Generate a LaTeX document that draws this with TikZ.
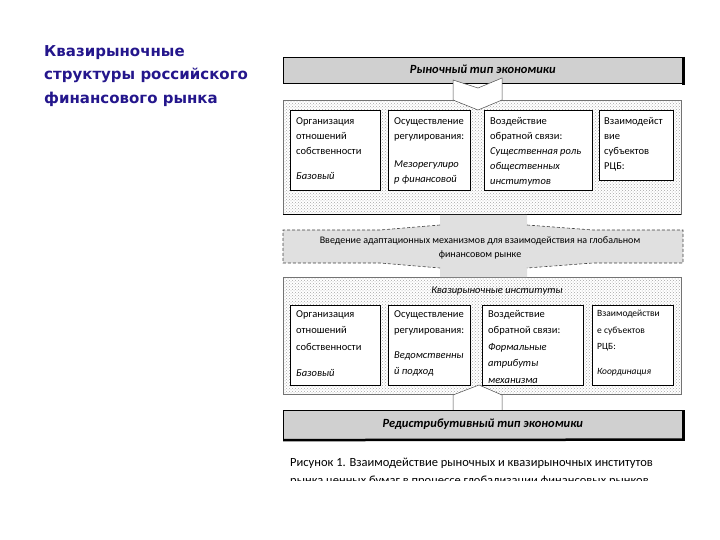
\documentclass[tikz,border=0pt]{standalone}
\usepackage{fontspec}
\setmainfont{Carlito}
\newfontfamily\headfont{DejaVu Sans}
\usetikzlibrary{patterns}
\definecolor{headblue}{RGB}{36,22,140}
\definecolor{bandgray}{RGB}{208,208,208}
\definecolor{midgray}{RGB}{224,224,224}
\tikzset{
  region/.style={pattern=crosshatch dots, pattern color=black!35, draw=black!55, line width=0.4pt},
  cell/.style={draw=black, fill=white, line width=0.6pt, anchor=north west, inner sep=0pt},
  txt/.style={anchor=north west, inner sep=0pt, align=left, font=\fontsize{10.5}{15}\selectfont},
  txtb/.style={txt, font=\fontsize{10.5}{16.5}\selectfont},
  band/.style={draw=black, fill=bandgray, line width=0.6pt, anchor=north west, inner sep=0pt},
  bandtxt/.style={font=\fontsize{12.5}{14}\selectfont\bfseries\itshape, inner sep=0pt},
  chev/.style={draw=black!70, fill=white, line width=0.5pt},
  heading/.style={anchor=north west, inner sep=0pt, align=left, text=headblue, font=\headfont\fontsize{15}{23.5}\selectfont\bfseries},
}
\begin{document}
\begin{tikzpicture}[x=1pt,y=-1pt]
\useasboundingbox (0,0) rectangle (720,540);
% heading
\node[heading] (head) at (44,45) {Квазирыночные\\структуры российского\\финансового рынка};

% region 1 and 2 (dotted backgrounds)
\node[region, anchor=north west, minimum width=398, minimum height=114, inner sep=0pt] (r1) at (283,100) {};
\draw[black, line width=0.7pt] (r1.south west) -- (r1.south east);
\node[region, anchor=north west, minimum width=398, minimum height=117, inner sep=0pt] (r2) at (283,277) {};

% top band
\node[band, minimum width=399, minimum height=26] (top) at (283,57) {};
\draw[black, line width=2.5pt] ([xshift=1pt]top.north east) -- ([xshift=1pt,yshift=-1pt]top.south east);
\node[bandtxt] (toptxt) at ([yshift=1pt]top.center) {Рыночный тип экономики};
% down chevron
\coordinate (c1a) at (453,80);
\coordinate (c1b) at (478,88);
\coordinate (c1c) at (502,78);
\coordinate (c1d) at (502,100);
\coordinate (c1e) at (478,110);
\coordinate (c1f) at (453,100);
\draw[chev] (c1a) -- (c1b) -- (c1c) -- (c1d) -- (c1e) -- (c1f) -- cycle;

% region 1 cells
\node[cell, minimum width=90, minimum height=80] (a1) at (290,110) {};
\node[cell, minimum width=82, minimum height=80] (a2) at (388,110) {};
\node[cell, minimum width=108, minimum height=80] (a3) at (484,110) {};
\node[cell, minimum width=74, minimum height=70] (a4) at (599,110) {};
\node[txt] (a1t) at ([xshift=6pt,yshift=-7pt]a1.north west) {Организация\\отношений\\собственности\\[10pt]\textit{Базовый}};
\node[txt] (a2t) at ([xshift=6pt,yshift=-7pt]a2.north west) {Осуществление\\регулирования:\\[13pt]\textit{Мезорегулиро}\\\textit{р финансовой}};
\node[txt] (a3t) at ([xshift=6pt,yshift=-7pt]a3.north west) {Воздействие\\обратной связи:\\\textit{Существенная роль}\\\textit{общественных}\\\textit{институтов}};
\node[txt] (a4t) at ([xshift=5pt,yshift=-7pt]a4.north west) {Взаимодейст\\вие\\субъектов\\РЦБ:};

% middle band with double arrow
\coordinate (m1) at (283,230);
\coordinate (m2) at (380,230);
\coordinate (m3) at (440,225);
\coordinate (m4) at (440,215);
\coordinate (m5) at (527,215);
\coordinate (m6) at (527,225);
\coordinate (m7) at (593,230);
\coordinate (m8) at (683,230);
\coordinate (m9) at (683,263);
\coordinate (m10) at (593,263);
\coordinate (m11) at (527,268);
\coordinate (m12) at (527,277);
\coordinate (m13) at (440,277);
\coordinate (m14) at (440,268);
\coordinate (m15) at (380,263);
\coordinate (m16) at (283,263);
\fill[midgray] (m1) -- (m2) -- (m3) -- (m4) -- (m5) -- (m6) -- (m7) -- (m8) -- (m9) -- (m10) -- (m11) -- (m12) -- (m13) -- (m14) -- (m15) -- (m16) -- cycle;
\draw[densely dashed, black!75, line width=0.6pt] (m3) -- (m2) -- (m1) -- (m16) -- (m15) -- (m14);
\draw[densely dashed, black!75, line width=0.6pt] (m6) -- (m7) -- (m8) -- (m9) -- (m10) -- (m11);
\node[inner sep=0pt, align=center, font=\fontsize{10}{13.5}\selectfont] (midtxt) at (480,248) {Введение адаптационных механизмов для взаимодействия на глобальном\\финансовом рынке};

% region 2 title
\node[inner sep=0pt, font=\fontsize{10.5}{12}\selectfont\itshape] (r2title) at (497,291) {Квазирыночные институты};

% region 2 cells
\node[cell, minimum width=90, minimum height=80] (b1) at (290,305) {};
\node[cell, minimum width=82, minimum height=80] (b2) at (388,305) {};
\node[cell, minimum width=101, minimum height=80] (b3) at (482,305) {};
\node[cell, minimum width=81, minimum height=80] (b4) at (592,305) {};
\node[txtb] (b1t) at ([xshift=6pt,yshift=-5pt]b1.north west) {Организация\\отношений\\собственности\\[10pt]\textit{Базовый}};
\node[txtb] (b2t) at ([xshift=6pt,yshift=-5pt]b2.north west) {Осуществление\\регулирования:\\[8pt]\textit{Ведомственны}\\\textit{й подход}};
\node[txtb] (b3t) at ([xshift=6pt,yshift=-5pt]b3.north west) {Воздействие\\обратной связи:\\\textit{Формальные}\\\textit{атрибуты}\\\textit{механизма}};
\node[txtb, font=\fontsize{9.5}{16.5}\selectfont] (b4t) at ([xshift=5pt,yshift=-5pt]b4.north west) {Взаимодействи\\е субъектов\\РЦБ:\\[8pt]\textit{Координация}};

% up chevron (behind bottom band)
\coordinate (c2a) at (453,395);
\coordinate (c2b) at (479,385);
\coordinate (c2c) at (502,395);
\coordinate (c2d) at (502,418);
\coordinate (c2e) at (453,418);
\draw[chev] (c2a) -- (c2b) -- (c2c) -- (c2d) -- (c2e) -- cycle;

% bottom band
\node[band, minimum width=399, minimum height=29] (bot) at (283,410) {};
\draw[black, line width=2.5pt] ([xshift=1pt]bot.north east) -- ([xshift=1pt]bot.south east) -- ([yshift=-0.5pt]bot.south west);
\node[bandtxt] (bottxt) at ([yshift=1pt]bot.center) {Редистрибутивный тип экономики};

% caption
\node[anchor=base west, inner sep=0pt, font=\fontsize{12.5}{14}\selectfont] (cap1) at (290,466) {Рисунок 1. Взаимодействие рыночных и квазирыночных институтов};
\begin{scope}
\clip (280,471) rectangle (700,480);
\node[anchor=base west, inner sep=0pt, font=\fontsize{12.5}{14}\selectfont] (cap2) at (290,484) {рынка ценных бумаг в процессе глобализации финансовых рынков};
\end{scope}
\end{tikzpicture}
\end{document}
